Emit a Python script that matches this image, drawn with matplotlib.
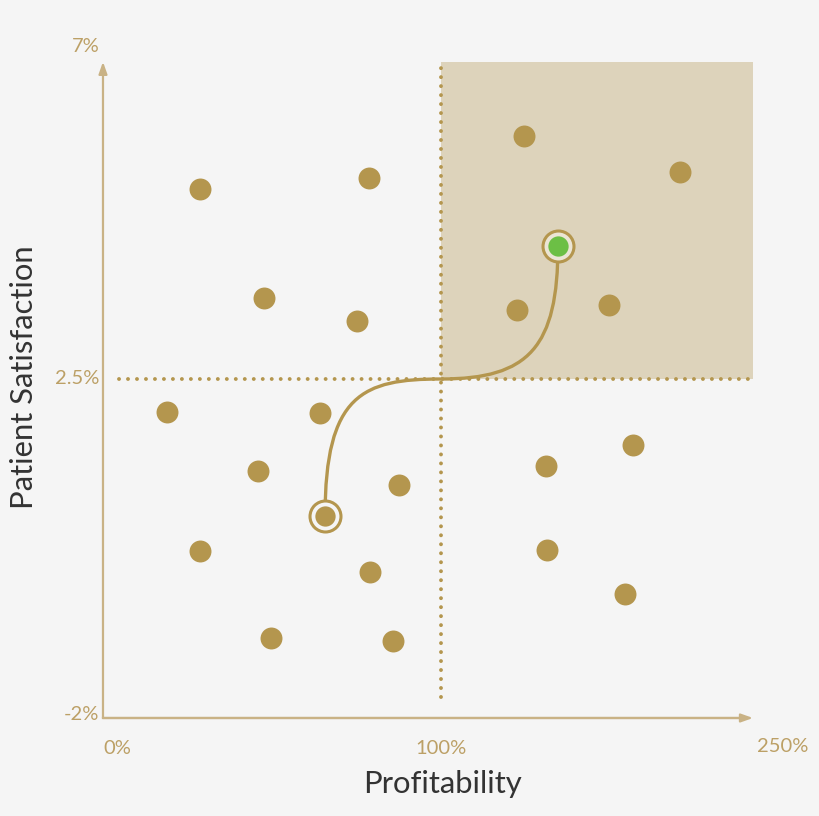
import matplotlib.pyplot as plt
from matplotlib.path import Path
from matplotlib.patches import PathPatch, Rectangle

# profitability (%) and patient satisfaction (%) of each practice
profit = [28.7, 78.7, 124.6, 170.7, 47.6, 75.1, 122.5, 149.7, 18.9, 64.2,
          45.9, 87.6, 131.1, 156.8, 28.7, 79.0, 131.4, 154.4, 49.7, 85.8]
satisfaction = [5.02, 5.17, 5.73, 5.25, 3.58, 3.27, 3.42, 3.48, 2.06, 2.05,
                1.28, 1.09, 1.35, 1.62, 0.22, -0.06, 0.23, -0.35, -0.94, -0.98]

start_pt = (65.7, 0.68)
end_pt = (134.6, 4.27)
threshold_x = 100
threshold_y = 2.5

# bezier control points of the path from start to goal
curve_x = [65.7, 65.7, 76.9, 100.0, 126.0, 134.6, 134.6]
curve_y = [0.68, 2.3, 2.5, 2.5, 2.5, 2.92, 4.27]

x_end = 192.3
y_top = 6.71
tick_labels_x = ["0%", "100%", "250%"]
tick_labels_y = ["-2%", "2.5%", "7%"]

BG = "#f5f5f5"
GOLD = "#b4964e"
AXIS = "#c9b285"
BOX = "#ddd3bb"
LABEL = "#bca066"

fig = plt.figure(figsize=(8.2, 8.16), dpi=100, facecolor=BG)
ax = fig.add_axes([0, 0, 1, 1])
ax.set_facecolor(BG)
ax.set_xlim(-30.47, 212.13)
ax.set_ylim(-3.301, 7.531)
ax.axis("off")

# target quadrant
ax.add_patch(Rectangle((threshold_x, threshold_y), x_end - threshold_x, y_top - threshold_y,
                       facecolor=BOX, edgecolor="none", zorder=1))

# axes arrows
ax.annotate("", xy=(x_end, -2), xytext=(0, -2),
            arrowprops=dict(arrowstyle="-|>,head_length=0.7,head_width=0.25", color=AXIS, lw=1.6,
                            shrinkA=0, shrinkB=0), zorder=2)
ax.annotate("", xy=(0, y_top), xytext=(0, -2),
            arrowprops=dict(arrowstyle="-|>,head_length=0.7,head_width=0.25", color=AXIS, lw=1.6,
                            shrinkA=0, shrinkB=0), zorder=2)
ax.plot([0, x_end - 3], [-2, -2], color=AXIS, lw=1.6, zorder=2)

# dotted threshold lines
dots = (0, (0.01, 2.3))
ax.plot([threshold_x, threshold_x], [-1.72, y_top], color=GOLD, lw=2.8,
        linestyle=dots, dash_capstyle="round", zorder=3)
ax.plot([4.7, 192.9], [threshold_y, threshold_y], color=GOLD, lw=2.8,
        linestyle=dots, dash_capstyle="round", zorder=3)

# path curve
verts = list(zip(curve_x, curve_y))
codes = [Path.MOVETO] + [Path.CURVE4] * 6
ax.add_patch(PathPatch(Path(verts, codes), facecolor="none", edgecolor=GOLD, lw=2.4, zorder=4))

ax.plot(profit, satisfaction, "o", color=GOLD, markersize=15.8, markeredgewidth=0, zorder=5)

# start and goal rings
ax.plot(*start_pt, "o", markersize=22.3, markerfacecolor=BG, markeredgecolor=GOLD,
        markeredgewidth=2.2, zorder=5)
ax.plot(*start_pt, "o", color=GOLD, markersize=14.6, markeredgewidth=0, zorder=6)
ax.plot(*end_pt, "o", markersize=22.3, markerfacecolor="#ebe5d5", markeredgecolor=GOLD,
        markeredgewidth=2.2, zorder=5)
ax.plot(*end_pt, "o", color="#6cbf45", markersize=14.6, markeredgewidth=0, zorder=6)

# labels
font = "Lato"
fs = 14.5
ax.text(0, -2.4, tick_labels_x[0], color=LABEL, fontsize=fs, family=font, ha="left", va="center")
ax.text(threshold_x, -2.4, tick_labels_x[1], color=LABEL, fontsize=fs, family=font, ha="center", va="center")
ax.text(201, -2.38, tick_labels_x[2], color=LABEL, fontsize=fs, family=font, ha="center", va="center")
ax.text(-1.2, -1.96, tick_labels_y[0], color=LABEL, fontsize=fs, family=font, ha="right", va="center")
ax.text(-1.2, 2.51, tick_labels_y[1], color=LABEL, fontsize=fs, family=font, ha="right", va="center")
ax.text(-5.1, 6.91, tick_labels_y[2], color=LABEL, fontsize=fs, family=font, ha="center", va="center")

ax.text(100.5, -2.88, "Profitability", color="#333333", fontsize=22.3, family=font, ha="center", va="center")
ax.text(-23.4, 2.52, "Patient Satisfaction", color="#333333", fontsize=22.3, family=font,
        ha="center", va="center", rotation=90)

fig.savefig("out.png", dpi=100, facecolor=BG)
